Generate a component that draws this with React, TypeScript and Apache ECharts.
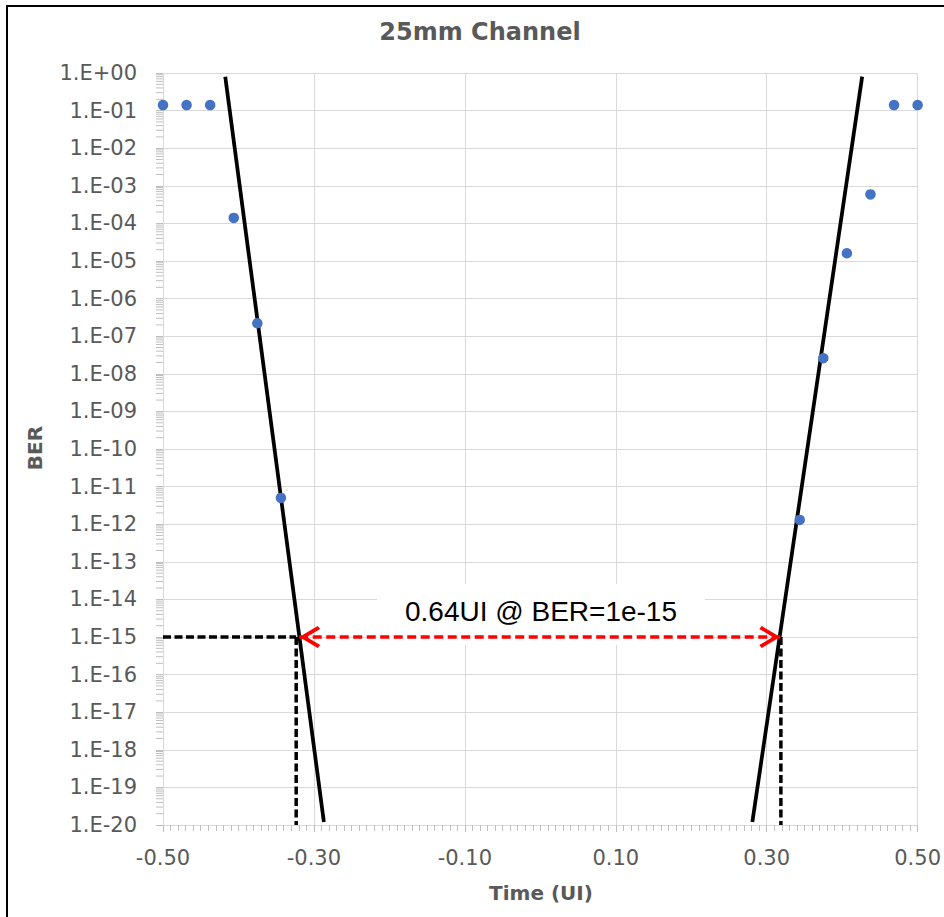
import React, { useEffect, useRef } from 'react';
import * as echarts from 'echarts';

// Measured BER points (time in UI)
const leftTime = [-0.5, -0.46875, -0.4375, -0.40625, -0.375, -0.34375];
const leftBER = [0.14, 0.14, 0.14, 1.4e-4, 2.2e-7, 5e-12];
const rightTime = [0.34375, 0.375, 0.40625, 0.4375, 0.46875, 0.5];
const rightBER = [1.3e-12, 2.6e-8, 1.6e-5, 5.9e-4, 0.14, 0.14];

// Extrapolation (fit) lines
const leftFitTime = [-0.4175, -0.2868];
const leftFitBER = [0.8, 1.2e-20];
const rightFitTime = [0.281, 0.4265];
const rightFitBER = [1.2e-20, 0.8];

// Annotation at BER = 1e-15
const berTarget = 1e-15;
const berFloor = 1e-20;
const berCeil = 1;
const leftCross = -0.3235;
const rightCross = 0.3188;
const arrowStart = -0.3195;
const arrowEnd = 0.318;
const annotationText = '0.64UI @ BER=1e-15';

// Axis settings
const xMin = -0.5;
const xMax = 0.5;
const xStep = 0.2;
const yDecades = [-20, -19, -18, -17, -16, -15, -14, -13, -12, -11, -10, -9, -8, -7, -6, -5, -4, -3, -2, -1];
const minorMultipliers = [2, 3, 4, 5, 6, 7, 8, 9];

// open chevron pointing up, apex at the centre of its bounding box
const chevron =
  'path://M11,21 L22,39.5 L19,42 L11,28.5 L3,42 L0,39.5 Z M11,0 L11.02,0 L11,0.02 Z';

const labelFont = "'DejaVu Sans', 'Liberation Sans', sans-serif";
const gray = '#595959';
const gridGray = '#d9d9d9';
const tickGray = '#bfbfbf';

const lg = (v: number) => Math.log10(v);

function fmtExp(e: number) {
  const r = Math.round(e);
  return '1.E' + (r < 0 ? '-' : '+') + String(Math.abs(r)).padStart(2, '0');
}

export default function App() {
  const ref = useRef<HTMLDivElement>(null);
  useEffect(() => {
    document.body.style.margin = '0';
    const chart = echarts.init(ref.current!, null, { renderer: 'svg' });

    const minorTickData: number[][] = [];
    yDecades.forEach((d) => {
      minorMultipliers.forEach((m) => minorTickData.push([xMin, lg(m * Math.pow(10, d))]));
    });

    const dashed = (pts: number[][]) => ({
      type: 'line',
      data: pts,
      symbol: 'none',
      lineStyle: { color: '#000', width: 3.5, type: [8, 3.5] },
      z: 3,
    });

    const option: any = {
      animation: false,
      backgroundColor: '#ffffff',
      grid: { left: 163, right: 25, top: 73, bottom: 92, containLabel: false },
      xAxis: {
        type: 'value',
        min: xMin,
        max: xMax,
        interval: xStep,
        axisLine: { show: true, onZero: false, lineStyle: { color: gridGray, width: 1 } },
        axisTick: { show: true, length: 7, lineStyle: { color: tickGray } },
        minorTick: { show: true, splitNumber: 20, length: 6, lineStyle: { color: tickGray } },
        splitLine: { show: true, lineStyle: { color: gridGray, width: 1 } },
        axisLabel: {
          formatter: (v: number) => v.toFixed(2),
          fontFamily: labelFont,
          fontSize: 21,
          color: gray,
          margin: 22,
        },
      },
      yAxis: {
        type: 'value',
        min: lg(berFloor),
        max: lg(berCeil),
        interval: 1,
        axisLine: { show: true, onZero: false, lineStyle: { color: gridGray, width: 1 } },
        axisTick: { show: true, length: 7, lineStyle: { color: tickGray } },
        splitLine: { show: true, lineStyle: { color: gridGray, width: 1 } },
        axisLabel: {
          formatter: fmtExp,
          fontFamily: labelFont,
          fontSize: 21,
          color: gray,
          margin: 26,
        },
      },
      graphic: [
        {
          type: 'rect',
          z: 100,
          shape: { x: 7, y: 6, width: 1000, height: 1000 },
          style: { fill: 'none', stroke: '#000', lineWidth: 2 },
          silent: true,
        },
        {
          type: 'text',
          x: 480,
          y: 32,
          style: {
            text: '25mm Channel',
            font: `bold 24px ${labelFont}`,
            fill: gray,
            align: 'center',
            verticalAlign: 'middle',
          },
        },
        {
          type: 'text',
          x: 35,
          y: 448,
          rotation: Math.PI / 2,
          style: {
            text: 'BER',
            font: `bold 20px ${labelFont}`,
            fill: gray,
            align: 'center',
            verticalAlign: 'middle',
          },
        },
        {
          type: 'text',
          x: 541,
          y: 893,
          style: {
            text: 'Time (UI)',
            font: `bold 20px ${labelFont}`,
            fill: gray,
            align: 'center',
            verticalAlign: 'middle',
          },
        },
        {
          type: 'rect',
          z: 1,
          shape: { x: 377, y: 584, width: 328, height: 61 },
          style: { fill: '#ffffff' },
          silent: true,
        },
        {
          type: 'text',
          z: 10,
          x: 541,
          y: 611,
          style: {
            text: annotationText,
            font: "28px 'Liberation Sans', Arial, sans-serif",
            fill: '#000000',
            align: 'center',
            verticalAlign: 'middle',
          },
        },
      ],
      series: [
        {
          type: 'custom',
          clip: false,
          silent: true,
          data: minorTickData,
          renderItem: (params: any, api: any) => {
            const p = api.coord([api.value(0), api.value(1)]);
            return {
              type: 'line',
              shape: { x1: p[0] - 7, y1: p[1], x2: p[0], y2: p[1] },
              style: { stroke: tickGray, lineWidth: 1 },
            };
          },
          z: 1,
        },
        {
          type: 'line',
          data: leftFitTime.map((t, i) => [t, lg(leftFitBER[i])]),
          symbol: 'none',
          lineStyle: { color: '#000', width: 3.75 },
          z: 3,
        },
        {
          type: 'line',
          data: rightFitTime.map((t, i) => [t, lg(rightFitBER[i])]),
          symbol: 'none',
          lineStyle: { color: '#000', width: 3.75 },
          z: 3,
        },
        dashed([
          [xMin, lg(berTarget)],
          [leftCross, lg(berTarget)],
        ]),
        dashed([
          [leftCross, lg(berTarget)],
          [leftCross, lg(berFloor)],
        ]),
        dashed([
          [rightCross, lg(berTarget)],
          [rightCross, lg(berFloor)],
        ]),
        {
          type: 'line',
          data: [
            [arrowStart, lg(berTarget)],
            [arrowEnd, lg(berTarget)],
          ],
          symbol: 'none',
          lineStyle: { color: '#ff0000', width: 3.5, type: [9, 4.5] },
          z: 4,
        },
        {
          type: 'scatter',
          data: [
            { value: [arrowStart, lg(berTarget)], symbolRotate: 90 },
            { value: [arrowEnd, lg(berTarget)], symbolRotate: -90 },
          ],
          symbol: chevron,
          symbolSize: [22, 42],
          itemStyle: { color: '#ff0000', opacity: 1 },
          z: 4,
        },
        {
          type: 'scatter',
          data: leftTime.map((t, i) => [t, lg(leftBER[i])]),
          symbol: 'circle',
          symbolSize: 10.5,
          itemStyle: { color: '#4472C4', opacity: 1 },
          z: 5,
        },
        {
          type: 'scatter',
          data: rightTime.map((t, i) => [t, lg(rightBER[i])]),
          symbol: 'circle',
          symbolSize: 10.5,
          itemStyle: { color: '#4472C4', opacity: 1 },
          z: 5,
        },
      ],
    };

    chart.setOption(option);
    return () => chart.dispose();
  }, []);
  return <div ref={ref} style={{ width: 944, height: 917 }} />;
}
